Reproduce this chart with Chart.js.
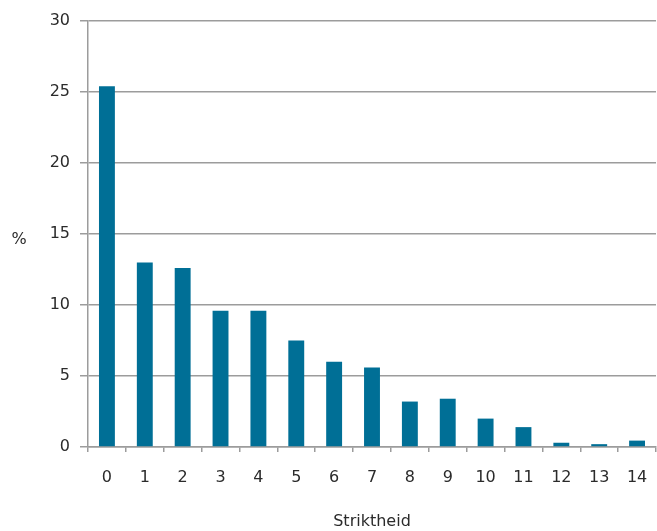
<!DOCTYPE html>
<html>
<head>
<meta charset="utf-8">
<script src="https://cdn.jsdelivr.net/npm/chart.js@4"></script>
<style>
  html, body { margin: 0; padding: 0; background: #fff; }
  #wrap { width: 657px; height: 531px; }
</style>
</head>
<body>
<div id="wrap"><canvas id="chart" width="657" height="531"></canvas></div>
<script>
const categories = ['0', '1', '2', '3', '4', '5', '6', '7', '8', '9', '10', '11', '12', '13', '14'];
const percentages = [25.4, 13.0, 12.6, 9.6, 9.6, 7.5, 6.0, 5.6, 3.2, 3.4, 2.0, 1.4, 0.3, 0.2, 0.45];
const yTicks = [0, 5, 10, 15, 20, 25, 30];
const xTitle = 'Striktheid';
const yTitle = '%';

const gridColor = '#9c9c9c';
const textColor = '#2b2b2b';
const font = { size: 16, family: "'DejaVu Sans', Verdana, sans-serif" };

// "%" staat horizontaal naast de as, dus zelf tekenen
const yTitlePlugin = {
  id: 'yTitle',
  afterDraw(chart) {
    const { ctx, chartArea } = chart;
    ctx.save();
    ctx.font = `${font.size}px ${font.family}`;
    ctx.fillStyle = textColor;
    ctx.textAlign = 'center';
    ctx.textBaseline = 'middle';
    ctx.fillText(yTitle, 19, (chartArea.top + chartArea.bottom) / 2 + 6);
    ctx.restore();
  }
};

new Chart(document.getElementById('chart'), {
  type: 'bar',
  data: {
    labels: categories,
    datasets: [{
      label: yTitle,
      data: percentages,
      backgroundColor: '#006f96',
      borderWidth: 0,
      barPercentage: 0.42,
      categoryPercentage: 1,
    }]
  },
  options: {
    responsive: false,
    animation: false,
    layout: { padding: { top: 21, right: 1, left: 0, bottom: 0 } },
    plugins: {
      legend: { display: false },
      tooltip: { enabled: false },
    },
    scales: {
      x: {
        offset: true,
        grid: {
          offset: true,
          drawOnChartArea: false,
          drawTicks: true,
          tickLength: 5,
          color: gridColor,
          lineWidth: 1.5,
        },
        border: { color: gridColor, width: 1.5 },
        ticks: { color: textColor, font, padding: 16, maxRotation: 0 },
        title: {
          display: true,
          text: xTitle,
          color: textColor,
          font,
          padding: { top: 12, bottom: 0 },
        },
        afterFit(scale) {
          scale.height = 84;
          scale.paddingLeft = 0;
          scale.paddingRight = 0;
        },
      },
      y: {
        min: 0,
        max: 30,
        afterBuildTicks(scale) { scale.ticks = yTicks.map(v => ({ value: v })); },
        grid: { color: gridColor, lineWidth: 1.5, tickLength: 8 },
        border: { color: gridColor, width: 1.5 },
        ticks: { color: textColor, font, padding: 10 },
        afterFit(scale) { scale.width = 88; },
      }
    }
  },
  plugins: [yTitlePlugin]
});
</script>
</body>
</html>
